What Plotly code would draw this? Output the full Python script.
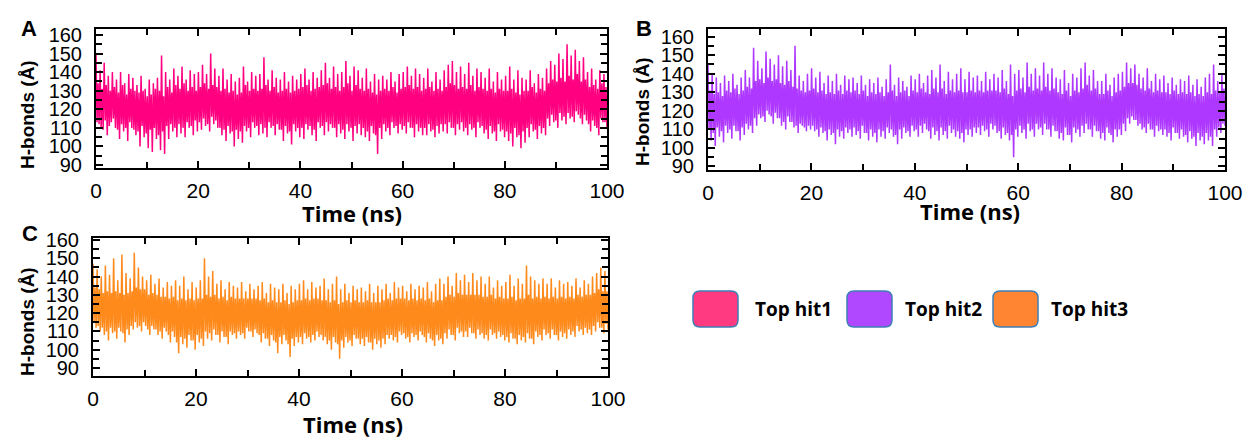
import plotly.graph_objects as go

W, H = 1249, 438

# ---------------- data ----------------
series_names = ["Top hit1", "Top hit2", "Top hit3"]
panel_letters = ["A", "B", "C"]
time_start_ns, time_end_ns = 0, 100

hbonds_hit1 = [
    150, 113, 134, 112, 141, 110, 131, 109, 145, 114, 133, 106, 138, 111, 130, 113, 140, 115, 132, 110,
    136, 109, 129, 104, 140, 112, 133, 108, 134, 110, 128, 103, 139, 113, 131, 110, 137, 109, 130, 106,
    133, 108, 129, 100, 138, 111, 130, 105, 131, 107, 127, 99, 136, 109, 128, 97, 134, 110, 131, 104,
    137, 106, 130, 98, 149, 108, 127, 96, 140, 111, 132, 104, 136, 112, 129, 108, 142, 110, 133, 105,
    138, 112, 131, 107, 143, 110, 134, 105, 136, 113, 130, 110, 141, 111, 132, 106, 139, 114, 130, 108,
    140, 113, 132, 109, 144, 115, 134, 111, 139, 112, 131, 108, 150, 116, 133, 112, 142, 114, 132, 110,
    138, 110, 130, 106, 142, 109, 131, 103, 136, 111, 129, 107, 139, 108, 130, 100, 135, 109, 128, 104,
    137, 108, 129, 102, 143, 111, 133, 108, 135, 110, 130, 105, 140, 113, 131, 110, 138, 111, 130, 106,
    139, 112, 131, 107, 148, 110, 133, 105, 136, 113, 130, 110, 141, 111, 132, 106, 137, 112, 129, 109,
    136, 109, 130, 103, 140, 111, 131, 107, 135, 108, 129, 101, 138, 112, 130, 108, 136, 110, 131, 105,
    139, 110, 132, 104, 142, 112, 133, 109, 136, 111, 130, 106, 140, 109, 131, 103, 137, 113, 132, 110,
    141, 111, 133, 106, 145, 113, 134, 108, 137, 112, 131, 110, 143, 110, 132, 105, 139, 112, 130, 107,
    140, 109, 132, 104, 146, 112, 134, 108, 138, 110, 130, 103, 143, 111, 133, 107, 141, 112, 131, 106,
    137, 110, 130, 105, 142, 108, 131, 103, 135, 111, 129, 107, 139, 106, 128, 96, 136, 110, 130, 104,
    138, 112, 131, 108, 136, 110, 130, 106, 140, 113, 132, 110, 135, 111, 129, 107, 139, 112, 131, 109,
    140, 111, 132, 107, 143, 113, 133, 110, 138, 110, 131, 105, 142, 112, 132, 108, 139, 110, 130, 106,
    137, 110, 131, 106, 142, 112, 132, 108, 135, 109, 130, 105, 140, 111, 131, 107, 136, 112, 130, 108,
    141, 112, 132, 107, 144, 113, 134, 110, 146, 110, 133, 106, 140, 112, 131, 109, 143, 113, 132, 108,
    139, 110, 131, 106, 145, 112, 133, 109, 138, 110, 130, 105, 142, 113, 132, 110, 140, 111, 131, 107,
    137, 109, 130, 104, 142, 111, 131, 107, 135, 108, 129, 103, 140, 112, 131, 108, 136, 109, 130, 105,
    138, 108, 130, 103, 143, 107, 131, 100, 136, 110, 129, 105, 141, 106, 128, 99, 137, 108, 130, 102,
    136, 110, 130, 105, 141, 112, 132, 108, 134, 109, 129, 104, 139, 111, 131, 107, 137, 110, 130, 106,
    142, 115, 134, 111, 146, 117, 136, 113, 144, 114, 135, 110, 150, 118, 137, 114, 147, 116, 135, 112,
    155, 118, 138, 115, 149, 116, 136, 113, 152, 119, 139, 117, 146, 115, 135, 112, 148, 117, 136, 114,
    140, 112, 132, 108, 142, 114, 133, 111, 136, 110, 131, 106, 141, 115, 134, 113, 139, 113, 132, 110,
]

hbonds_hit2 = [
    145, 110, 131, 104, 140, 108, 129, 101, 138, 111, 130, 106, 135, 109, 128, 103, 139, 112, 131, 108,
    136, 110, 130, 105, 140, 112, 132, 109, 134, 109, 129, 104, 138, 111, 131, 107, 142, 113, 133, 110,
    138, 112, 132, 108, 154, 116, 136, 112, 147, 118, 137, 116, 143, 117, 135, 114, 152, 120, 138, 118,
    148, 117, 136, 113, 145, 119, 137, 116, 150, 116, 135, 112, 144, 114, 134, 110, 147, 117, 136, 114,
    142, 114, 133, 111, 155, 112, 132, 108, 139, 113, 131, 112, 136, 111, 130, 109, 140, 112, 131, 110,
    143, 112, 132, 109, 138, 110, 130, 106, 141, 111, 131, 108, 135, 109, 129, 104, 139, 110, 130, 107,
    136, 108, 129, 102, 140, 110, 131, 106, 134, 109, 129, 105, 139, 111, 131, 108, 137, 110, 130, 106,
    138, 111, 131, 107, 135, 109, 129, 105, 139, 112, 131, 108, 134, 108, 128, 104, 137, 110, 130, 106,
    135, 108, 129, 103, 138, 110, 130, 106, 133, 109, 128, 105, 137, 111, 130, 108, 145, 110, 131, 106,
    134, 107, 128, 102, 138, 110, 130, 105, 136, 111, 131, 108, 133, 109, 128, 106, 139, 112, 131, 109,
    137, 110, 130, 106, 140, 112, 132, 108, 135, 113, 130, 110, 139, 109, 129, 105, 142, 111, 132, 107,
    138, 109, 130, 104, 145, 111, 132, 107, 136, 109, 129, 105, 141, 112, 131, 108, 137, 110, 130, 106,
    140, 109, 131, 105, 143, 108, 130, 103, 137, 110, 130, 107, 141, 110, 131, 106, 138, 111, 130, 108,
    139, 111, 131, 107, 136, 112, 130, 109, 141, 110, 131, 106, 137, 113, 131, 110, 140, 112, 131, 108,
    138, 109, 130, 105, 142, 111, 132, 107, 136, 108, 129, 104, 145, 107, 128, 95, 140, 110, 131, 106,
    142, 112, 132, 108, 138, 110, 130, 105, 146, 113, 133, 109, 140, 110, 131, 106, 143, 113, 132, 110,
    139, 111, 131, 107, 146, 113, 133, 110, 140, 110, 131, 106, 143, 112, 132, 109, 138, 109, 130, 105,
    137, 108, 129, 104, 142, 111, 131, 107, 135, 107, 128, 103, 140, 111, 131, 108, 138, 110, 130, 106,
    143, 112, 132, 108, 146, 113, 134, 110, 139, 110, 131, 106, 142, 112, 132, 109, 136, 109, 129, 105,
    136, 108, 129, 104, 140, 111, 131, 108, 134, 107, 128, 103, 138, 110, 130, 106, 140, 110, 131, 107,
    141, 113, 133, 109, 146, 116, 135, 113, 143, 117, 135, 115, 145, 115, 134, 112, 140, 113, 132, 110,
    138, 111, 131, 108, 143, 113, 132, 110, 136, 110, 130, 106, 140, 112, 131, 109, 137, 110, 130, 107,
    139, 110, 130, 106, 135, 108, 129, 104, 138, 111, 131, 108, 134, 108, 129, 105, 137, 110, 130, 106,
    136, 107, 129, 103, 139, 109, 130, 105, 134, 106, 128, 101, 137, 108, 129, 104, 133, 106, 128, 102,
    138, 108, 130, 104, 140, 106, 129, 101, 145, 110, 131, 106, 136, 111, 130, 108, 140, 113, 132, 112,
]

hbonds_hit3 = [
    147, 115, 134, 112, 144, 113, 133, 110, 140, 112, 131, 108, 146, 110, 132, 105, 141, 112, 131, 109,
    150, 110, 132, 106, 138, 112, 131, 110, 152, 109, 130, 104, 142, 111, 131, 108, 139, 113, 132, 111,
    153, 115, 134, 112, 145, 113, 133, 110, 140, 115, 133, 113, 138, 111, 130, 108, 141, 113, 131, 111,
    136, 111, 130, 108, 139, 110, 129, 106, 134, 112, 129, 110, 137, 108, 128, 104, 135, 110, 129, 107,
    138, 104, 127, 98, 135, 107, 128, 103, 140, 106, 127, 101, 133, 108, 128, 105, 137, 105, 127, 100,
    134, 108, 128, 104, 138, 106, 128, 102, 150, 110, 130, 106, 140, 109, 129, 105, 143, 111, 130, 108,
    136, 108, 128, 104, 138, 110, 129, 107, 133, 107, 127, 103, 137, 110, 129, 108, 135, 109, 128, 106,
    134, 110, 128, 108, 137, 109, 128, 106, 132, 112, 128, 110, 136, 110, 128, 107, 133, 111, 128, 109,
    135, 108, 127, 104, 137, 109, 128, 106, 131, 106, 126, 102, 136, 108, 127, 105, 134, 104, 126, 98,
    133, 107, 126, 103, 136, 108, 127, 105, 131, 103, 125, 96, 135, 106, 126, 102, 133, 107, 127, 104,
    136, 107, 127, 103, 138, 109, 128, 106, 133, 107, 127, 104, 137, 108, 128, 105, 134, 110, 128, 107,
    135, 108, 127, 105, 139, 107, 127, 103, 133, 105, 126, 100, 136, 107, 127, 104, 140, 103, 125, 95,
    133, 105, 126, 101, 136, 107, 127, 104, 131, 105, 126, 102, 135, 108, 127, 106, 133, 106, 126, 103,
    134, 106, 126, 102, 132, 107, 127, 104, 136, 104, 126, 100, 131, 106, 126, 103, 135, 105, 126, 101,
    133, 106, 127, 103, 136, 108, 128, 106, 131, 108, 127, 105, 137, 107, 128, 104, 134, 110, 128, 108,
    135, 109, 128, 106, 132, 107, 127, 104, 136, 109, 128, 107, 133, 108, 127, 105, 135, 110, 128, 108,
    134, 107, 127, 104, 137, 109, 128, 106, 132, 105, 126, 102, 136, 108, 127, 105, 139, 106, 127, 103,
    136, 109, 129, 106, 140, 111, 130, 108, 135, 108, 129, 105, 142, 112, 131, 109, 138, 110, 130, 107,
    141, 110, 130, 107, 137, 112, 130, 109, 142, 109, 130, 106, 138, 111, 130, 108, 140, 109, 129, 106,
    136, 108, 129, 105, 140, 111, 130, 108, 134, 109, 128, 106, 138, 110, 129, 107, 135, 108, 128, 105,
    137, 107, 128, 104, 141, 109, 129, 106, 135, 106, 127, 103, 139, 108, 128, 105, 136, 107, 128, 104,
    146, 109, 130, 106, 140, 106, 128, 103, 138, 110, 129, 107, 136, 108, 128, 105, 139, 111, 129, 108,
    136, 109, 128, 106, 139, 111, 129, 108, 134, 108, 128, 105, 138, 110, 129, 107, 136, 109, 128, 106,
    137, 111, 129, 108, 135, 110, 128, 107, 139, 113, 130, 110, 134, 111, 129, 108, 138, 112, 130, 109,
    136, 111, 130, 108, 140, 113, 131, 110, 142, 115, 133, 112, 145, 112, 132, 109, 143, 114, 132, 111,
]

x_tick_values = [0, 20, 40, 60, 80, 100]
y_tick_values = [90, 100, 110, 120, 130, 140, 150, 160]

# ---------------- styling ----------------
line_colors = ["#FF0080", "#AE38FF", "#FF8A1C"]
legend_fill = ["#FF3A80", "#B048FF", "#FF8533"]
legend_border = "#3F7FB5"
x_title = "Time (ns)"
y_title = "H-bonds (Å)"

# panel geometry in pixels: (left, right, top, bottom) and y range
panels = [
    dict(box=(96, 607, 29, 168), yrange=[88.4, 163.2],
         ytitle=(27, 115), xtitle=(352, 213), letter=(29, 28)),
    dict(box=(708, 1225, 29, 170), yrange=[88.1, 164.1],
         ytitle=(642, 112), xtitle=(970, 211), letter=(644, 28)),
    dict(box=(93, 608, 238, 376), yrange=[85.6, 161.1],
         ytitle=(27, 322), xtitle=(353, 424), letter=(30, 233)),
]


def px(x):
    return x / W


def py(y):
    return 1 - y / H


series = [hbonds_hit1, hbonds_hit2, hbonds_hit3]
fig = go.Figure()

FONT = "Liberation Sans, Arial, sans-serif"
BOLD_FONT = "Open Sans, Liberation Sans, Arial, sans-serif"

annotations = []
shapes = []

for i, (vals, p) in enumerate(zip(series, panels)):
    n = len(vals)
    t = [time_start_ns + k * (time_end_ns - time_start_ns) / (n - 1) for k in range(n)]
    sfx = "" if i == 0 else str(i + 1)
    fig.add_trace(go.Scatter(
        x=t, y=vals, mode="lines", name=series_names[i],
        line=dict(color=line_colors[i], width=1.5),
        xaxis="x" + sfx, yaxis="y" + sfx, showlegend=False,
        hoverinfo="skip",
    ))
    l, r, tp, b = p["box"]
    common = dict(showline=True, linecolor="black", linewidth=2, mirror="ticks",
                  ticks="inside", tickcolor="black", tickwidth=2, ticklen=7,
                  showgrid=False, zeroline=False, fixedrange=True, automargin=False)
    fig.layout["xaxis" + sfx] = dict(
        domain=[px(l), px(r)], range=[time_start_ns, time_end_ns],
        anchor="y" + sfx, tickvals=x_tick_values,
        tickfont=dict(family=FONT, size=21, color="black"),
        ticklabelstandoff=3,
        minor=dict(dtick=10, tick0=0, ticks="inside", ticklen=6, tickwidth=2,
                   tickcolor="black"),
        **common)
    fig.layout["yaxis" + sfx] = dict(
        domain=[py(b), py(tp)], range=p["yrange"],
        anchor="x" + sfx, tickvals=y_tick_values,
        tickfont=dict(family=FONT, size=20, color="black"),
        ticklabelstandoff=8,
        minor=dict(dtick=5, tick0=0, ticks="inside", ticklen=6, tickwidth=2,
                   tickcolor="black"),
        **common)

    yx, yy = p["ytitle"]
    annotations.append(dict(
        x=px(yx), y=py(yy), xref="paper", yref="paper", text="<b>" + y_title + "</b>",
        textangle=-90, showarrow=False, xanchor="center", yanchor="middle",
        font=dict(family=FONT, size=19, color="black")))
    xx, xy = p["xtitle"]
    annotations.append(dict(
        x=px(xx), y=py(xy), xref="paper", yref="paper", text="<b>" + x_title + "</b>",
        showarrow=False, xanchor="center", yanchor="middle",
        font=dict(family=BOLD_FONT, size=22, color="black")))
    lx, ly = p["letter"]
    annotations.append(dict(
        x=px(lx), y=py(ly), xref="paper", yref="paper", text="<b>" + panel_letters[i] + "</b>",
        showarrow=False, xanchor="center", yanchor="middle",
        font=dict(family=FONT, size=22, color="black")))


def rounded_rect(x0, y0, x1, y1, r):
    return (f"M {px(x0 + r)},{py(y0)} L {px(x1 - r)},{py(y0)} "
            f"Q {px(x1)},{py(y0)} {px(x1)},{py(y0 + r)} L {px(x1)},{py(y1 - r)} "
            f"Q {px(x1)},{py(y1)} {px(x1 - r)},{py(y1)} L {px(x0 + r)},{py(y1)} "
            f"Q {px(x0)},{py(y1)} {px(x0)},{py(y1 - r)} L {px(x0)},{py(y0 + r)} "
            f"Q {px(x0)},{py(y0)} {px(x0 + r)},{py(y0)} Z")


legend_box_left = [693, 847, 993]
legend_text_left = [753, 903, 1049]
legend_top, legend_bottom, legend_w = 291, 327, 45
for i in range(3):
    x0 = legend_box_left[i]
    shapes.append(dict(type="path", xref="paper", yref="paper",
                       path=rounded_rect(x0, legend_top, x0 + legend_w, legend_bottom, 7),
                       fillcolor=legend_fill[i],
                       line=dict(color=legend_border, width=1.5)))
    annotations.append(dict(
        x=px(legend_text_left[i]), y=py((legend_top + legend_bottom) / 2),
        xref="paper", yref="paper", text="<b>" + series_names[i] + "</b>",
        showarrow=False, xanchor="left", yanchor="middle",
        font=dict(family=BOLD_FONT, size=19, color="black")))

fig.update_layout(
    width=W, height=H, autosize=False,
    margin=dict(l=0, r=0, t=0, b=0),
    paper_bgcolor="white", plot_bgcolor="white",
    annotations=annotations, shapes=shapes,
    showlegend=False,
)

fig.write_html(
    "out.html",
    config={"displayModeBar": False},
    post_script="document.body.style.margin='0';document.body.style.padding='0';"
                "document.body.style.overflow='hidden';",
)
